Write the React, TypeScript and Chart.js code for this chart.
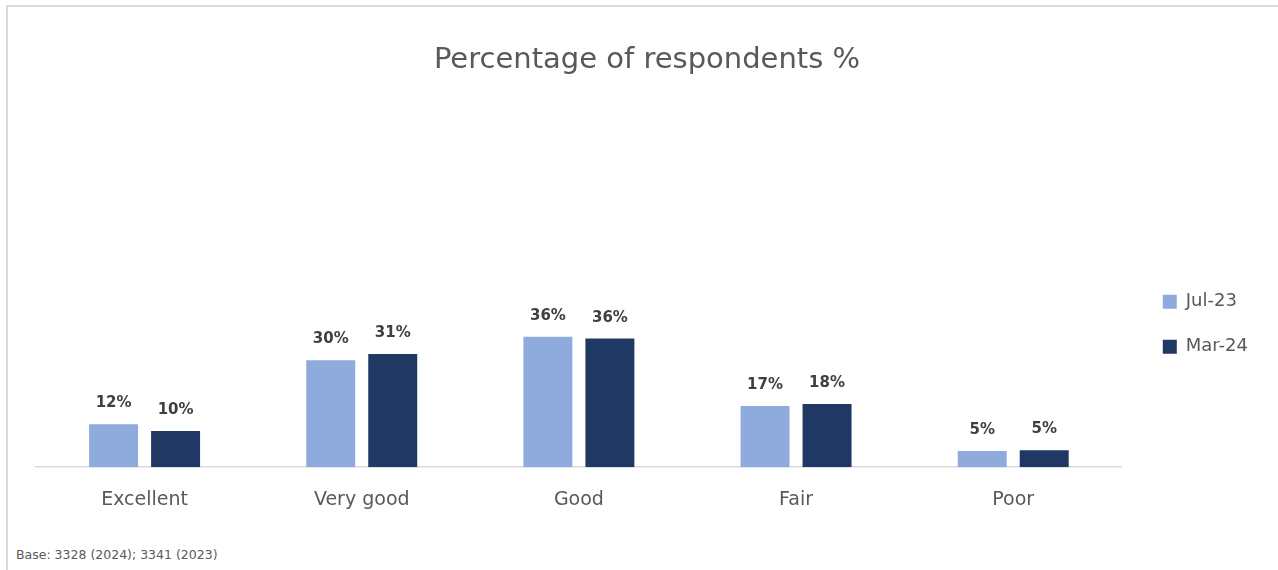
import React, { useEffect, useRef } from "react";
import { Chart, registerables } from "chart.js";

Chart.register(...registerables);

const categories = ["Excellent", "Very good", "Good", "Fair", "Poor"];
const seriesNames = ["Jul-23", "Mar-24"];
const jul23 = [11.9, 29.6, 36.1, 16.9, 4.5];
const mar24 = [10.0, 31.3, 35.6, 17.5, 4.7];
const seriesColors = ["#8FAADC", "#203864"];
const titleText = "Percentage of respondents %";
const footnote = "Base: 3328 (2024); 3341 (2023)";

const FONT = "'DejaVu Sans', sans-serif";

const valueLabels = {
  id: "valueLabels",
  afterDatasetsDraw(chart: any) {
    const ctx = chart.ctx;
    ctx.save();
    ctx.font = `bold 15px ${FONT}`;
    ctx.fillStyle = "#404040";
    ctx.textAlign = "center";
    ctx.textBaseline = "alphabetic";
    chart.data.datasets.forEach((ds: any, i: number) => {
      const meta = chart.getDatasetMeta(i);
      meta.data.forEach((bar: any, j: number) => {
        const v = ds.data[j];
        ctx.fillText(Math.round(v) + "%", bar.x, bar.y - 17);
      });
    });
    ctx.restore();
  },
};

export default function App() {
  const ref = useRef<HTMLCanvasElement>(null);
  useEffect(() => {
    if (!ref.current) return;
    const chart = new Chart(ref.current, {
      type: "bar",
      data: {
        labels: categories,
        datasets: [
          { label: seriesNames[0], data: jul23, backgroundColor: seriesColors[0], borderWidth: 0 },
          { label: seriesNames[1], data: mar24, backgroundColor: seriesColors[1], borderWidth: 0 },
        ],
      },
      options: {
        animation: false,
        responsive: false,
        maintainAspectRatio: false,
        layout: { padding: { left: 28, right: 20, top: 0, bottom: 0 } },
        datasets: { bar: { categoryPercentage: 0.571, barPercentage: 0.79 } },
        scales: {
          x: {
            grid: { display: false, drawTicks: false },
            border: { display: true, color: "#d9d9d9", width: 1.5 },
            ticks: { color: "#595959", font: { family: FONT, size: 19 }, padding: 21 },
          },
          y: {
            position: "right",
            min: 0,
            max: 100,
            grid: { display: false, drawTicks: false },
            border: { display: false },
            ticks: { display: false },
            afterFit: (s: any) => {
              s.width = 14;
            },
          },
        },
        plugins: {
          title: {
            display: true,
            text: titleText,
            color: "#595959",
            font: { family: FONT, size: 29, weight: "normal" },
            padding: { top: 36, bottom: 28 },
          },
          legend: {
            position: "right",
            align: "start",
            fullSize: false,
            title: { display: true, text: " ", font: { size: 10, lineHeight: 1 }, padding: { top: 150, bottom: 0 } },
            labels: {
              boxWidth: 14,
              boxHeight: 14,
              padding: 27,
              color: "#595959",
              font: { family: FONT, size: 18 },
            },
          },
          tooltip: { enabled: false },
        },
      },
      plugins: [valueLabels],
    });
    return () => chart.destroy();
  }, []);

  return (
    <div style={{ position: "fixed", left: 0, top: 0, width: 1278, height: 570, background: "#fff", overflow: "hidden" }}>
      <div
        style={{
          position: "absolute",
          left: 6,
          top: 5,
          right: 0,
          bottom: 0,
          borderTop: "2px solid #d9d9d9",
          borderLeft: "2px solid #d9d9d9",
        }}
      />
      <canvas ref={ref} width={1270} height={525} style={{ position: "absolute", left: 8, top: 7, width: 1270, height: 525 }} />
      <div
        style={{
          position: "absolute",
          left: 16,
          top: 547,
          fontFamily: FONT,
          fontSize: 12.5,
          lineHeight: "15px",
          color: "#595959",
          whiteSpace: "nowrap",
        }}
      >
        {footnote}
      </div>
    </div>
  );
}
